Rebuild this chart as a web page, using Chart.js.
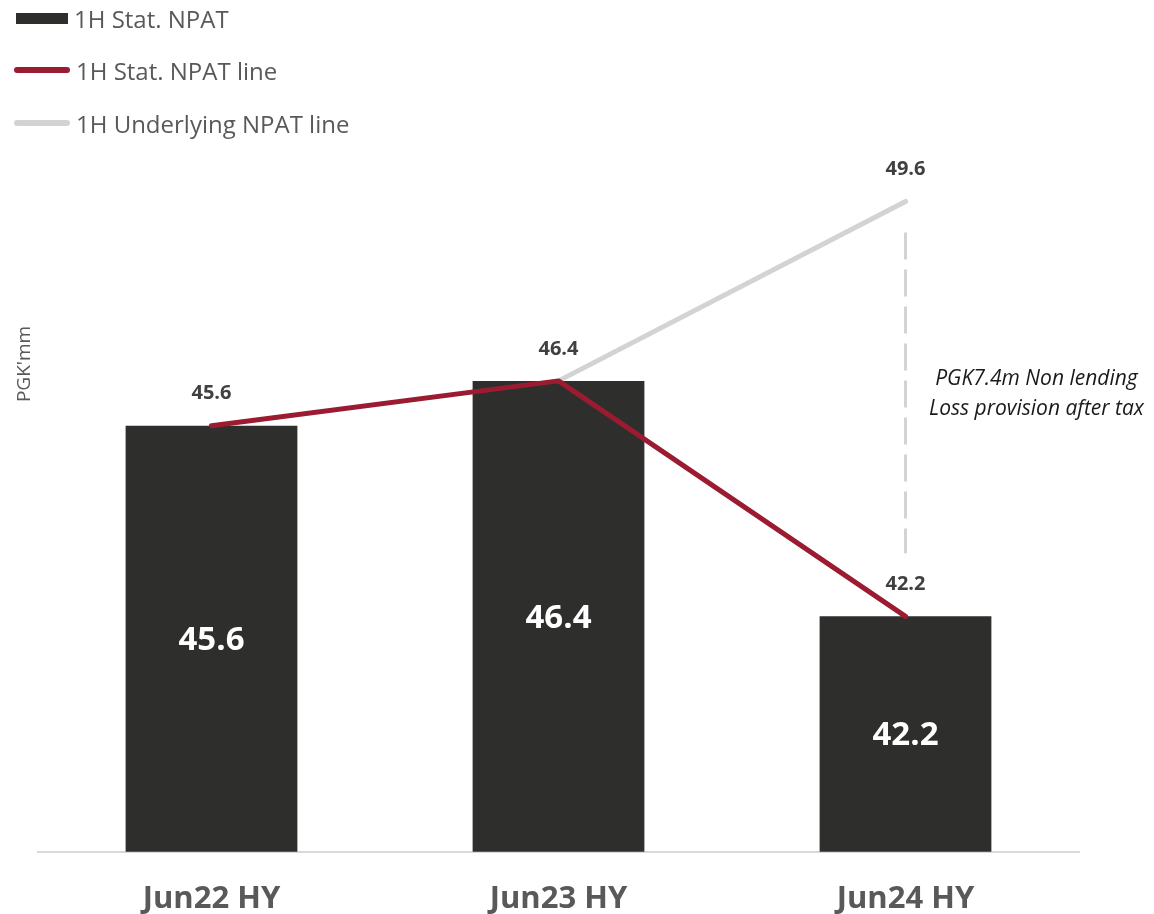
<!DOCTYPE html>
<html>
<head>
<meta charset="utf-8">
<script src="https://cdn.jsdelivr.net/npm/chart.js@4"></script>
<style>
  html, body { margin: 0; padding: 0; background: #fff; overflow: hidden; }
  #wrap { position: relative; width: 1154px; height: 914px; }
  #legend { position: absolute; left: 0; top: 0; font-family: "Open Sans", sans-serif; font-size: 24px; color: #595959; }
  .item { position: absolute; white-space: nowrap; display: flex; align-items: center; height: 30px; }
  .sw { display: inline-block; margin-right: 6px; }
</style>
</head>
<body>
<div id="wrap">
  <canvas id="npatChart" width="1154" height="914"></canvas>
  <div id="legend">
    <div class="item" style="left:16px; top:3px;"><span class="sw" style="width:52px;height:11px;background:#2e2e2c;"></span>1H Stat. NPAT</div>
    <div class="item" style="left:14px; top:55px;"><span class="sw" style="width:56px;height:6px;border-radius:3px;background:#9b1b30;"></span>1H Stat. NPAT line</div>
    <div class="item" style="left:14px; top:108px;"><span class="sw" style="width:56px;height:6px;border-radius:3px;background:#d3d3d3;"></span>1H Underlying NPAT line</div>
  </div>
</div>
<script>
// ---- data ----
const periods = ["Jun22 HY", "Jun23 HY", "Jun24 HY"];
const statNpat = [45.6, 46.4, 42.2];
const statNpatLine = [45.6, 46.4, 42.2];
const underlyingLine = [null, 46.4, 49.6];
const noteLines = ["PGK7.4m Non lending", "Loss provision after tax"];
const yTitle = "PGK'mm";

const COLORS = {
  bar: "#2e2e2c",
  stat: "#9b1b30",
  under: "#d3d3d3",
  label: "#404040",
  axis: "#595959"
};

// labels, y title, dashed gap marker
const labelPlugin = {
  id: "npatLabels",
  afterDatasetsDraw(chart) {
    const { ctx, scales } = chart;
    const x = scales.x, y = scales.y;
    const base = y.getPixelForValue(y.min);
    ctx.save();
    ctx.textAlign = "center";
    ctx.textBaseline = "middle";

    // white values inside bars
    ctx.fillStyle = "#ffffff";
    ctx.font = "bold 33px 'Open Sans', sans-serif";
    statNpat.forEach((v, i) => {
      const top = y.getPixelForValue(v);
      ctx.fillText(v.toFixed(1), x.getPixelForValue(i), (top + base) / 2 + 2);
    });

    // values above line points
    ctx.fillStyle = COLORS.label;
    ctx.font = "bold 20px 'Open Sans', sans-serif";
    const shown = {};
    [statNpatLine, underlyingLine].forEach(arr => {
      arr.forEach((v, i) => {
        if (v == null) return;
        const key = i + ":" + v;
        if (shown[key]) return;
        shown[key] = true;
        ctx.fillText(v.toFixed(1), x.getPixelForValue(i), y.getPixelForValue(v) - 32);
      });
    });

    // dashed vertical line between underlying and stat
    const xi = x.getPixelForValue(2);
    ctx.strokeStyle = COLORS.under;
    ctx.lineWidth = 3;
    ctx.setLineDash([27, 10]);
    ctx.beginPath();
    ctx.moveTo(xi, y.getPixelForValue(underlyingLine[2]) + 31);
    ctx.lineTo(xi, y.getPixelForValue(statNpatLine[2]) - 63);
    ctx.stroke();
    ctx.setLineDash([]);

    // note text
    ctx.fillStyle = "#1a1a1a";
    ctx.font = "italic 21px 'Open Sans', sans-serif";
    const midY = (y.getPixelForValue(underlyingLine[2]) + y.getPixelForValue(statNpatLine[2])) / 2;
    noteLines.forEach((t, k) => {
      ctx.fillText(t, xi + 131, midY - 30 + k * 30);
    });

    // y axis title
    ctx.fillStyle = COLORS.axis;
    ctx.font = "19px 'Open Sans', sans-serif";
    ctx.translate(25, 364);
    ctx.rotate(-Math.PI / 2);
    ctx.fillText(yTitle, 0, 0);
    ctx.restore();
  }
};

const ctx = document.getElementById("npatChart").getContext("2d");
new Chart(ctx, {
  type: "bar",
  data: {
    labels: periods,
    datasets: [
      {
        type: "bar",
        label: "1H Stat. NPAT",
        data: statNpat,
        backgroundColor: COLORS.bar,
        categoryPercentage: 1,
        barPercentage: 0.495,
        order: 3
      },
      {
        type: "line",
        label: "1H Underlying NPAT line",
        data: underlyingLine,
        borderColor: COLORS.under,
        borderWidth: 5,
        borderCapStyle: "round",
        pointRadius: 0,
        fill: false,
        spanGaps: false,
        order: 2
      },
      {
        type: "line",
        label: "1H Stat. NPAT line",
        data: statNpatLine,
        borderColor: COLORS.stat,
        borderWidth: 5,
        borderCapStyle: "round",
        borderJoinStyle: "round",
        pointRadius: 0,
        fill: false,
        order: 1
      }
    ]
  },
  options: {
    responsive: false,
    animation: false,
    layout: { padding: { top: 123, right: 75, left: 38, bottom: -33 } },
    plugins: {
      legend: { display: false },
      tooltip: { enabled: false }
    },
    scales: {
      x: {
        grid: { display: false, drawTicks: false },
        border: { display: true, color: "#d9d9d9", width: 2 },
        ticks: {
          color: COLORS.axis,
          padding: 29,
          maxRotation: 0,
          font: { family: "'Open Sans', sans-serif", size: 31, weight: "bold" }
        }
      },
      y: {
        display: false,
        min: 38,
        max: 51
      }
    }
  },
  plugins: [labelPlugin]
});
</script>
</body>
</html>
